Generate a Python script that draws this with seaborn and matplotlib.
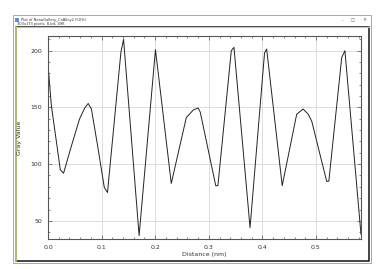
import matplotlib
matplotlib.use("Agg")
import matplotlib.pyplot as plt
from matplotlib.patches import Rectangle
from matplotlib.ticker import MultipleLocator
import seaborn as sns
import pandas as pd

distance = [0.000, 0.0063, 0.023, 0.029, 0.043, 0.059, 0.0685, 0.075, 0.081, 0.093,
            0.105, 0.111, 0.136, 0.141, 0.170, 0.2005, 0.230, 0.258, 0.271, 0.280,
            0.284, 0.313, 0.317, 0.342, 0.347, 0.377, 0.404, 0.408, 0.437, 0.464,
            0.476, 0.4856, 0.492, 0.520, 0.524, 0.548, 0.554, 0.584]
gray = [188, 151.5, 95, 92, 115, 140, 149.5, 153.5, 148.6, 115,
        79.5, 75, 198.6, 210, 37, 201, 83, 141, 147.7, 149.5,
        146, 81, 81, 200, 203, 44, 198, 201.5, 81, 144,
        148.6, 144, 138, 84.8, 85, 194, 200, 38]

title_text = "Plot of NanoGallery_CoAlloy2 (50%)"
info_text = "303x173 pixels; 8-bit; 49K"
xlabel = "Distance (nm)"
ylabel = "Gray Value"

df = pd.DataFrame({"d": distance, "g": gray})

sns.set_style("white")
plt.rcParams['font.family'] = ['DejaVu Sans']

W, H = 382, 269
fig = plt.figure(figsize=(W / 100, H / 100), dpi=100)
fig.patch.set_facecolor("white")

def fx(px):
    return px / W

def fy(py):
    return 1 - py / H

# window frame
fig.patches.append(Rectangle((fx(13), fy(263)), fx(371) - fx(13), fy(15) - fy(263),
                             transform=fig.transFigure, facecolor="white",
                             edgecolor="#9a9a9a", lw=0.6, zorder=-3))
fig.patches.append(Rectangle((fx(15.5), fy(261)), fx(369) - fx(15.5), fy(27) - fy(261),
                             transform=fig.transFigure, facecolor="white",
                             edgecolor="#111111", lw=1.1, zorder=-2))
fig.lines.append(plt.Line2D([fx(15.5), fx(15.5)], [fy(27), fy(261)],
                            transform=fig.transFigure, color="#c8d27a", lw=1.2, zorder=-1))
fig.lines.append(plt.Line2D([fx(15.5), fx(369)], [fy(27), fy(27)],
                            transform=fig.transFigure, color="#c8d27a", lw=0.8, zorder=-1))
fig.patches.append(Rectangle((fx(15), fy(22)), fx(4), fy(18) - fy(22),
                             transform=fig.transFigure, facecolor="#5b8fd6",
                             edgecolor="none", zorder=-1))
fig.text(fx(21), fy(20), title_text, fontsize=2.6, va="center", ha="left", color="#333333")
fig.text(fx(17), fy(24.5), info_text, fontsize=2.6, va="center", ha="left", color="#333333")
fig.text(fx(343), fy(20), "\u2013", fontsize=3, va="center", ha="center", color="#555555")
fig.text(fx(353), fy(20), "\u25a1", fontsize=3, va="center", ha="center", color="#555555")
fig.text(fx(364), fy(20), "\u00d7", fontsize=3.5, va="center", ha="center", color="#555555")

ax = fig.add_axes([fx(48), fy(239), fx(361) - fx(48), fy(36) - fy(239)])
ax.set_zorder(2)
sns.lineplot(data=df, x="d", y="g", ax=ax, color="#222222", lw=0.7, sort=False)

ax.set_xlim(0, 0.584)
ax.set_ylim(34, 213)
ax.xaxis.set_major_locator(MultipleLocator(0.1))
ax.xaxis.set_minor_locator(MultipleLocator(0.02))
ax.yaxis.set_major_locator(MultipleLocator(50))
ax.yaxis.set_minor_locator(MultipleLocator(10))
ax.set_xticks([0.0, 0.1, 0.2, 0.3, 0.4, 0.5])
ax.set_xticklabels(["0.0", "0.1", "0.2", "0.3", "0.4", "0.5"])
ax.set_yticks([50, 100, 150, 200])
ax.set_yticklabels(["50", "100", "150", "200"])
ax.grid(True, which="major", color="#dcdcdc", lw=0.7)
ax.set_axisbelow(True)
ax.tick_params(which="both", direction="in", top=True, right=True, bottom=True, left=True,
               color="#555555", labelsize=4.5, labelcolor="#333333", width=0.5)
ax.tick_params(which="major", length=3, pad=4)
ax.tick_params(which="minor", length=1.6)
for s in ax.spines.values():
    s.set_color("#555555")
    s.set_linewidth(0.8)
ax.set_xlabel(xlabel, fontsize=4.5, color="#333333", labelpad=2)
ax.set_ylabel(ylabel, fontsize=4.5, color="#333333", labelpad=6)

fig.savefig("out.png", dpi=100)
